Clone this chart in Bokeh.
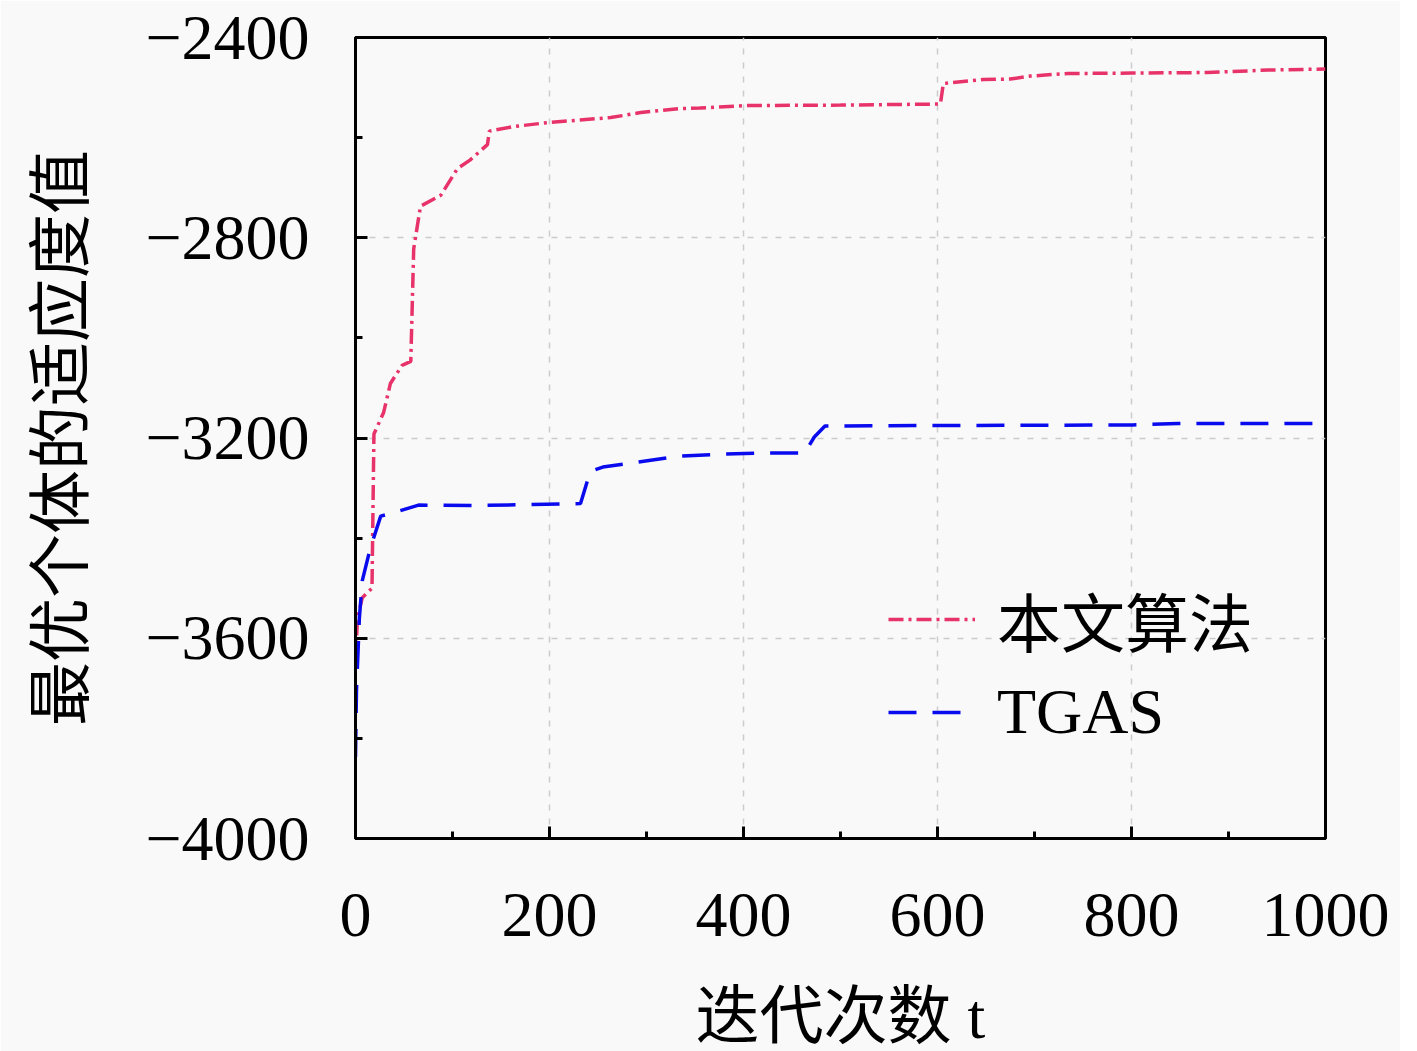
from bokeh.plotting import figure
from bokeh.models import Range1d, FixedTicker, Legend, LegendItem
from bokeh.embed import file_html
from bokeh.resources import INLINE

# 本文算法 (proposed algorithm)
t_ours = [0, 2, 7, 17, 19, 29, 36, 48, 57, 60, 67, 88, 105, 118, 136, 138, 163, 198,
          263, 294, 334, 355, 402, 500, 598, 603, 606, 647, 675, 696, 711, 734, 800,
          878, 941, 1000]
v_ours = [-3650, -3560, -3519, -3500, -3192, -3149, -3091, -3055, -3047, -2822, -2737,
          -2715, -2662, -2645, -2614, -2587, -2578, -2570, -2560, -2550, -2542, -2541,
          -2536, -2535, -2533, -2533, -2492, -2484, -2483, -2477, -2475, -2472, -2471,
          -2470, -2465, -2463]

# TGAS
t_tgas = [0, 1, 4, 7, 15, 26, 43, 65, 120, 232, 242, 255, 291, 334, 380, 427, 463, 473,
          484, 600, 801, 848, 1000]
v_tgas = [-3837, -3705, -3560, -3485, -3422, -3356, -3347, -3334, -3335, -3331, -3267,
          -3258, -3248, -3236, -3232, -3230, -3230, -3198, -3176, -3175, -3174, -3171,
          -3171]

x_major = [0, 200, 400, 600, 800, 1000]
x_minor = [100, 300, 500, 700, 900]
y_major = [-4000, -3600, -3200, -2800, -2400]
y_minor = [-3800, -3400, -3000, -2600]
y_labels = {v: "\u2212" + str(-v) for v in y_major}

series_names = ["本文算法", "TGAS"]
x_title = "迭代次数 t"
y_title = "最优个体的适应度值"

FONT = "Liberation Serif, Noto Sans CJK SC"
BG = "#f9f9f9"

p = figure(frame_width=970, frame_height=801, output_backend="svg",
           toolbar_location=None, x_range=Range1d(0, 1000),
           y_range=Range1d(-4000, -2400),
           min_border_left=355, min_border_top=37, min_border_right=75,
           min_border_bottom=10)
p.background_fill_color = BG
p.border_fill_color = BG
p.outline_line_color = "black"
p.outline_line_width = 3

r1 = p.line(t_ours, v_ours, line_color="#e8336a", line_width=3.5, line_dash="15 5 3 5")
r2 = p.line(t_tgas, v_tgas, line_color="#0a0aee", line_width=3.5, line_dash="28 16")

for ax in (p.xaxis[0], p.yaxis[0]):
    ax.axis_line_width = 3
    ax.major_tick_line_width = 3
    ax.minor_tick_line_width = 3
    ax.major_tick_in = 12
    ax.major_tick_out = 0
    ax.minor_tick_in = 7
    ax.minor_tick_out = 0
    ax.major_label_text_font = FONT
    ax.major_label_text_font_size = "64px"
    ax.major_label_text_color = "black"
    ax.axis_label_text_font = FONT
    ax.axis_label_text_font_size = "64px"
    ax.axis_label_text_font_style = "normal"
    ax.axis_label_text_color = "black"

p.xaxis.ticker = FixedTicker(ticks=x_major, minor_ticks=x_minor)
p.yaxis.ticker = FixedTicker(ticks=y_major, minor_ticks=y_minor)
p.yaxis.major_label_overrides = y_labels
p.xaxis.axis_label = x_title
p.yaxis.axis_label = y_title
p.xaxis.major_label_standoff = 55
p.xaxis.axis_label_standoff = 42
p.yaxis.axis_label_standoff = 45
p.yaxis.major_label_standoff = 46

p.xgrid.ticker = FixedTicker(ticks=x_major)
p.ygrid.ticker = FixedTicker(ticks=y_major)
for g in (p.xgrid[0], p.ygrid[0]):
    g.grid_line_color = "#cccccc"
    g.grid_line_dash = "6 8"
    g.grid_line_width = 1.5

legend = Legend(items=[LegendItem(label=series_names[0], renderers=[r1]),
                       LegendItem(label=series_names[1], renderers=[r2])],
                location=(533, 86), padding=0, margin=0, spacing=7,
                glyph_width=87, glyph_height=80, label_height=80,
                label_standoff=22, border_line_color=None,
                background_fill_alpha=0, label_text_font=FONT,
                label_text_font_size="64px", label_text_color="black")
p.add_layout(legend)

open("out.html", "w").write(file_html(p, INLINE))
